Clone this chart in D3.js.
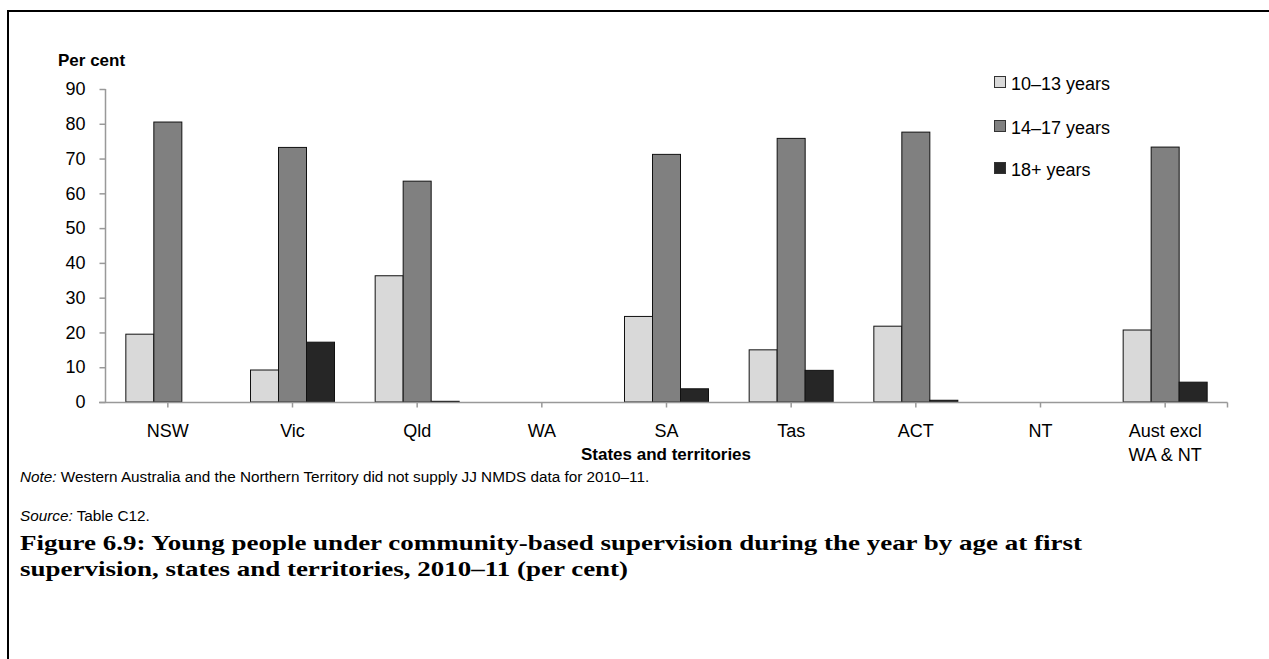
<!DOCTYPE html>
<html><head><meta charset="utf-8">
<script src="https://cdn.jsdelivr.net/npm/d3@7"></script>
<style>body{margin:0;background:#fff}svg{display:block}text{font-family:"Liberation Sans",Arial,sans-serif}</style>
</head><body><svg id="c" width="1269" height="659"></svg>
<script>
const categories = ["NSW","Vic","Qld","WA","SA","Tas","ACT","NT","Aust excl|WA & NT"];
const seriesNames = ["10–13 years","14–17 years","18+ years"];
const s1013 = [19.5, 9.2, 36.3, null, 24.6, 15.0, 21.8, null, 20.7];
const s1417 = [80.5, 73.2, 63.5, null, 71.2, 75.8, 77.6, null, 73.3];
const s18p  = [0,   17.2, 0.2,  null, 3.8,  9.1,  0.5,  null, 5.7];
const yTicks = [0,10,20,30,40,50,60,70,80,90];
const colors = ["#d9d9d9","#808080","#262626"];
const series = [s1013, s1417, s18p];

const svg = d3.select("#c");
svg.append("path").attr("d","M8,659 V11 H1269").attr("fill","none").attr("stroke","#000").attr("stroke-width",2);

const x0 = d3.scaleBand().domain(categories).range([105.5,1227.5]).paddingInner(0).paddingOuter(0);
const y = d3.scaleLinear().domain([0,90]).range([402,89]);
const bw = 28;
const x1 = d3.scaleBand().domain(seriesNames).range([0,bw*3]);

const g = svg.append("g");
categories.forEach((c,i)=>{
  const cx = x0(c)+x0.bandwidth()/2;
  series.forEach((s,j)=>{
    const v = s[i];
    if(v==null) return;
    g.append("rect").attr("x",cx-bw*1.5+x1(seriesNames[j])).attr("y",y(v)).attr("width",bw).attr("height",y(0)-y(v))
     .attr("fill",colors[j]).attr("stroke","#111").attr("stroke-width",1);
  });
});

const ya = svg.append("g").attr("transform","translate(105.5,0)").call(d3.axisLeft(y).tickValues(yTicks).tickSize(6).tickPadding(14));
ya.select(".domain").attr("stroke","#999").attr("stroke-width",1.5).attr("d","M0,"+y(90)+"V"+y(0));
ya.selectAll(".tick line").attr("stroke","#999").attr("stroke-width",1.5);
ya.selectAll(".tick text").attr("font-size",18).attr("fill","#000").style("font-family","Liberation Sans, Arial");

const xa = svg.append("g").attr("transform","translate(0,402.5)");
xa.append("line").attr("x1",99).attr("x2",1227.5).attr("stroke","#999").attr("stroke-width",1.5);
const tickXs = categories.map(c=>x0(c)+x0.bandwidth()/2).concat([1227.5]);
tickXs.forEach(t=>xa.append("line").attr("x1",t).attr("x2",t).attr("y1",0).attr("y2",5).attr("stroke","#999").attr("stroke-width",1.5));
categories.forEach(c=>{
  const lines = c.split("|");
  const t = xa.append("text").attr("x",x0(c)+x0.bandwidth()/2).attr("y",34).attr("text-anchor","middle").attr("font-size",18);
  lines.forEach((l,k)=>t.append("tspan").attr("x",x0(c)+x0.bandwidth()/2).attr("dy",k?24:0).text(l));
});

svg.append("text").attr("x",666).attr("y",460).attr("text-anchor","middle").attr("font-size",17).attr("font-weight","bold").text("States and territories");
svg.append("text").attr("x",58).attr("y",66).attr("font-size",17).attr("font-weight","bold").text("Per cent");

const leg = svg.append("g");
seriesNames.forEach((n,j)=>{
  const yy = [83,127,169][j];
  leg.append("rect").attr("x",994.5).attr("y",yy-6.5).attr("width",11).attr("height",11).attr("fill",colors[j]).attr("stroke","#333").attr("stroke-width",1);
  leg.append("text").attr("x",1011).attr("y",yy+6.5).attr("font-size",18).text(n);
});

const note = svg.append("text").attr("x",20).attr("y",482).attr("font-size",15.3);
note.append("tspan").attr("font-style","italic").text("Note:");
note.append("tspan").text(" Western Australia and the Northern Territory did not supply JJ NMDS data for 2010–11.");
const src = svg.append("text").attr("x",20).attr("y",521).attr("font-size",15.3);
src.append("tspan").attr("font-style","italic").text("Source:");
src.append("tspan").text(" Table C12.");

const tf = "'Liberation Serif','DejaVu Serif',serif";
const t1 = svg.append("text").attr("x",20).attr("y",550).attr("font-size",22).attr("font-weight","bold").style("font-family",tf)
  .text("Figure 6.9: Young people under community-based supervision during the year by age at first");
const t2 = svg.append("text").attr("x",20).attr("y",576).attr("font-size",22).attr("font-weight","bold").style("font-family",tf)
  .text("supervision, states and territories, 2010–11 (per cent)");
const n1 = t1.node().getComputedTextLength(), n2 = t2.node().getComputedTextLength();
const k = 1062 / n1;
t1.attr("textLength",1062).attr("lengthAdjust","spacingAndGlyphs");
t2.attr("textLength",n2*k).attr("lengthAdjust","spacingAndGlyphs");
</script></body></html>
